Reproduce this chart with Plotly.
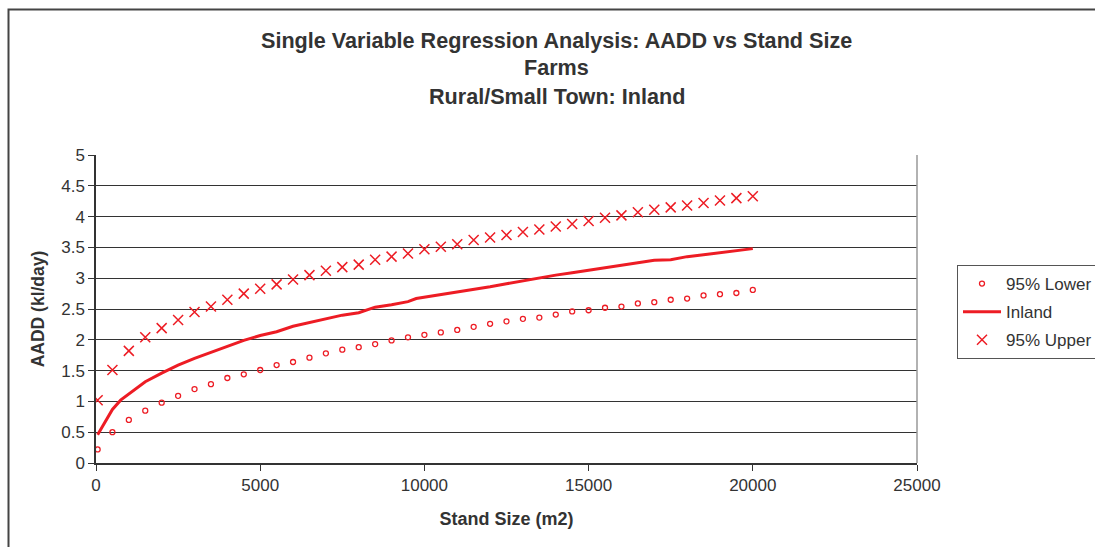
import plotly.graph_objects as go

# ---- data ----
stand_x = [50] + [500 * i for i in range(1, 41)]

lower_vals = [0.22, 0.50, 0.70, 0.85, 0.98, 1.09, 1.20, 1.28, 1.38, 1.44,
              1.51, 1.59, 1.64, 1.71, 1.78, 1.84, 1.88, 1.93, 1.99, 2.04,
              2.08, 2.12, 2.16, 2.21, 2.26, 2.30, 2.34, 2.36, 2.41, 2.46,
              2.48, 2.52, 2.54, 2.59, 2.61, 2.65, 2.67, 2.72, 2.74, 2.76, 2.81]

upper_vals = [1.02, 1.51, 1.82, 2.04, 2.19, 2.32, 2.45, 2.54, 2.65, 2.75,
              2.83, 2.90, 2.98, 3.05, 3.12, 3.18, 3.22, 3.30, 3.35, 3.40,
              3.47, 3.51, 3.55, 3.62, 3.66, 3.70, 3.75, 3.79, 3.84, 3.88,
              3.93, 3.98, 4.02, 4.07, 4.11, 4.15, 4.18, 4.22, 4.26, 4.30, 4.33]

inland_x = [50, 500, 750, 1000, 1500, 2000, 2500, 3000, 3500, 4000, 4500,
            5000, 5500, 6000, 6500, 7000, 7500, 8000, 8500, 9000, 9500, 9750,
            10000, 10500, 11000, 11500, 12000, 12500, 13000, 13500, 14000,
            14500, 15000, 15500, 16000, 16500, 17000, 17500, 18000, 18500,
            19000, 19500, 20000]
inland_vals = [0.46, 0.87, 1.02, 1.12, 1.32, 1.46, 1.59, 1.70, 1.80, 1.90, 1.99,
               2.07, 2.13, 2.22, 2.28, 2.34, 2.40, 2.44, 2.53, 2.57, 2.62, 2.67,
               2.69, 2.73, 2.78, 2.82, 2.86, 2.91, 2.96, 3.00, 3.05,
               3.09, 3.13, 3.17, 3.20, 3.25, 3.29, 3.30, 3.35, 3.38,
               3.41, 3.45, 3.48]

title_lines = ["Single Variable Regression Analysis: AADD vs Stand Size",
               "Farms", "Rural/Small Town: Inland"]

RED = "#ED1C24"
FONT = "Liberation Sans, Arial, sans-serif"
TXT = "#333333"

fig = go.Figure()
fig.add_trace(go.Scatter(
    x=stand_x, y=lower_vals, mode="markers", name="95% Lower", legendgroup="a",
    marker=dict(symbol="circle-open", size=5, color=RED, line=dict(width=1.3, color=RED))))
fig.add_trace(go.Scatter(
    x=inland_x, y=inland_vals, mode="lines", name="Inland", legendgroup="b",
    line=dict(color=RED, width=3)))
fig.add_trace(go.Scatter(
    x=stand_x, y=upper_vals, mode="markers", name="95% Upper", legendgroup="c",
    marker=dict(symbol="x-thin-open", size=10, color=RED, line=dict(width=1.5, color=RED))))

W, H = 1095, 547
PL, PR, PT, PB = 96, 917, 155, 463          # plot area in page pixels
L, R, T, B = PL, W - PR, PT, H - PB
pw, ph = PR - PL, PB - PT

def px_x(p):
    return (p - PL) / pw

def px_y(p):
    return (PB - p) / ph

annotations = []
for txt, ypix in zip(title_lines, [40, 68, 96]):
    annotations.append(dict(
        text="<b>%s</b>" % txt, x=px_x(556.5), y=px_y(ypix), xref="paper", yref="paper",
        showarrow=False, xanchor="center", yanchor="middle",
        font=dict(family=FONT, size=21.6, color=TXT)))

shapes = [
    dict(type="rect", xref="paper", yref="paper",
         x0=px_x(8.5), x1=px_x(1110), y0=px_y(9.5), y1=px_y(570),
         line=dict(color="#444444", width=2), layer="below"),
    dict(type="line", xref="paper", yref="paper", x0=1, x1=1, y0=0, y1=1,
         line=dict(color="#999999", width=1.5)),
]

fig.update_layout(
    width=W, height=H,
    margin=dict(l=L, r=R, t=T, b=B),
    paper_bgcolor="white", plot_bgcolor="white",
    font=dict(family=FONT, size=17, color=TXT),
    showlegend=True,
    legend=dict(xref="container", yref="container",
                x=957 / W, y=1 - 265 / H, xanchor="left", yanchor="top",
                bordercolor="#555555", borderwidth=1, bgcolor="white",
                font=dict(family=FONT, size=17, color=TXT),
                itemwidth=38, tracegroupgap=3),
    annotations=annotations,
    shapes=shapes,
    xaxis=dict(range=[0, 25000], tickvals=[0, 5000, 10000, 15000, 20000, 25000],
               ticktext=["0", "5000", "10000", "15000", "20000", "25000"],
               showgrid=False, zeroline=False, showline=True, linecolor="#333333",
               linewidth=1.5, ticks="outside", ticklen=6, tickcolor="#333333",
               tickfont=dict(family=FONT, size=17, color=TXT),
               title=dict(text="<b>Stand Size (m2)</b>", standoff=18,
                          font=dict(family=FONT, size=18, color=TXT))),
    yaxis=dict(range=[0, 5], tickvals=[0, 0.5, 1, 1.5, 2, 2.5, 3, 3.5, 4, 4.5, 5],
               ticktext=["0", "0.5", "1", "1.5", "2", "2.5", "3", "3.5", "4", "4.5", "5"],
               showgrid=True, gridcolor="#333333", gridwidth=1, zeroline=False,
               showline=True, linecolor="#333333", linewidth=1.5,
               ticks="outside", ticklen=6, tickcolor="#333333",
               tickfont=dict(family=FONT, size=17, color=TXT),
               title=dict(text="<b>AADD (kl/day)</b>", standoff=12,
                          font=dict(family=FONT, size=17.5, color=TXT))),
)

fig.write_html("out.html",
               config={"displayModeBar": False},
               post_script="document.body.style.margin='0';document.body.style.overflow='hidden';")
